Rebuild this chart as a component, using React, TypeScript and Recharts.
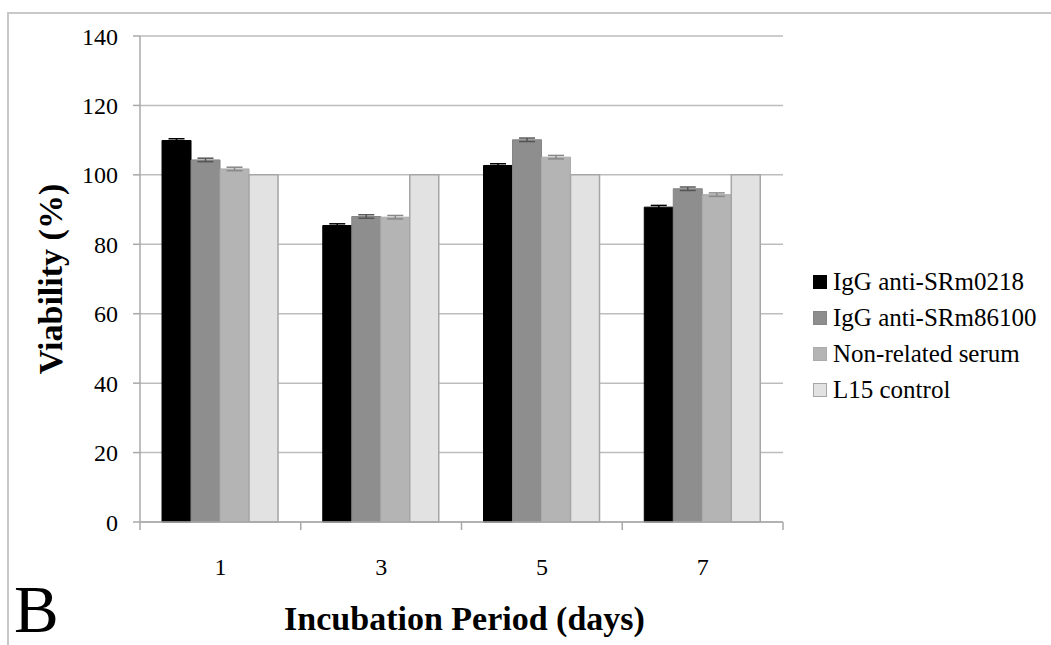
import React from "react";
import { BarChart, Bar, XAxis, YAxis, CartesianGrid, Legend, ErrorBar, Label } from "recharts";

const days = ["1", "3", "5", "7"];
const igg0218 = [109.9, 85.4, 102.7, 90.7];
const igg86100 = [104.3, 88.0, 110.1, 96.0];
const nonRelated = [101.7, 87.8, 105.1, 94.3];
const l15 = [100, 100, 100, 100];
const err0218 = [0.5, 0.5, 0.5, 0.5];
const err86100 = [0.5, 0.5, 0.5, 0.5];
const errNon = [0.5, 0.5, 0.5, 0.5];
const yTicks = [0, 20, 40, 60, 80, 100, 120, 140];
const boundaryTicks = [0, 1, 2, 3, 4];

const seriesNames = ["IgG anti-SRm0218", "IgG anti-SRm86100", "Non-related serum", "L15 control"];
const seriesColors = ["#000000", "#8e8e8e", "#b4b4b4", "#e2e2e2"];
const seriesStrokes = ["#000000", "#858585", "#aaaaaa", "#a6a6a6"];

const data = days.map((d, i) => ({
  day: d,
  slot: i + 0.5,
  a: igg0218[i],
  b: igg86100[i],
  c: nonRelated[i],
  d: l15[i],
  ea: err0218[i],
  eb: err86100[i],
  ec: errNon[i],
}));

const FONT = '"Liberation Serif", "Times New Roman", Times, serif';

const LegendContent = () => (
  <div style={{ fontFamily: FONT, fontSize: 25, color: "#000" }}>
    {seriesNames.map((n, i) => (
      <div key={n} style={{ display: "flex", alignItems: "center", height: 36, whiteSpace: "nowrap" }}>
        <span
          style={{
            display: "inline-block",
            width: 12,
            height: 12,
            background: seriesColors[i],
            border: `1px solid ${seriesStrokes[i]}`,
            marginRight: 6,
          }}
        />
        <span>{n}</span>
      </div>
    ))}
  </div>
);

const EmptyTick = () => <g />;

export default function App() {
  return (
    <div style={{ position: "absolute", left: 0, top: 0, width: 1051, height: 645, background: "#fff", overflow: "hidden" }}>
      <div
        style={{
          position: "absolute",
          left: 7,
          top: 12,
          width: 1100,
          height: 700,
          borderTop: "2px solid #c8c8c8",
          borderLeft: "2px solid #c8c8c8",
        }}
      />
      <div style={{ position: "absolute", left: 0, top: 0 }}>
        <BarChart
          width={1051}
          height={645}
          data={data}
          margin={{ top: 36, right: 268, left: 60, bottom: 62 }}
          barCategoryGap="13.7%"
          barGap={0}
        >
          <CartesianGrid vertical={false} stroke="#bdbdbd" strokeWidth={1.5} xAxisId="axB" yAxisId="y" />
          <XAxis
            xAxisId="axB"
            dataKey="day"
            height={60}
            axisLine={false}
            tickLine={false}
            tickSize={0}
            tickMargin={35}
            tick={{ fontSize: 24, fill: "#000", fontFamily: FONT }}
          >
            <Label
              content={({ viewBox }: any) => (
                <text
                  x={viewBox.x + viewBox.width / 2 + 3}
                  y={viewBox.y + 107}
                  textAnchor="middle"
                  style={{ fontFamily: FONT, fontSize: 34, fontWeight: "bold", fill: "#000" }}
                >
                  Incubation Period (days)
                </text>
              )}
            />
          </XAxis>
          <XAxis
            xAxisId="axA"
            dataKey="slot"
            type="number"
            domain={[0, 4]}
            ticks={boundaryTicks}
            interval={0}
            height={1}
            tick={EmptyTick}
            tickSize={8}
            axisLine={{ stroke: "#a8a8a8", strokeWidth: 1.5 }}
            tickLine={{ stroke: "#a8a8a8", strokeWidth: 1.5 }}
            allowDataOverflow
          />
          <YAxis
            yAxisId="y"
            width={80}
            domain={[0, 140]}
            ticks={yTicks}
            interval={0}
            tickSize={7}
            tickMargin={15}
            axisLine={{ stroke: "#a8a8a8", strokeWidth: 1.5 }}
            tickLine={{ stroke: "#a8a8a8", strokeWidth: 1.5 }}
            tick={{ fontSize: 24, fill: "#000", fontFamily: FONT }}
          >
            <Label
              content={({ viewBox }: any) => {
                const cx = viewBox.x - 10;
                const cy = viewBox.y + viewBox.height / 2;
                return (
                  <text
                    x={cx}
                    y={cy}
                    transform={`rotate(-90, ${cx}, ${cy})`}
                    textAnchor="middle"
                    dominantBaseline="central"
                    style={{ fontFamily: FONT, fontSize: 34, fontWeight: "bold", fill: "#000" }}
                  >
                    Viability (%)
                  </text>
                );
              }}
            />
          </YAxis>
          <Legend
            layout="vertical"
            align="center"
            verticalAlign="middle"
            content={<LegendContent />}
            wrapperStyle={{ left: 813, top: 264, width: 240 }}
          />
          <Bar xAxisId="axB" yAxisId="y" dataKey="a" name={seriesNames[0]} fill={seriesColors[0]} stroke={seriesStrokes[0]} strokeWidth={1} isAnimationActive={false}>
            <ErrorBar dataKey="ea" width={8} stroke="#000" strokeWidth={1.5} isAnimationActive={false} />
          </Bar>
          <Bar xAxisId="axB" yAxisId="y" dataKey="b" name={seriesNames[1]} fill={seriesColors[1]} stroke={seriesStrokes[1]} strokeWidth={1} isAnimationActive={false}>
            <ErrorBar dataKey="eb" width={8} stroke="#555" strokeWidth={1.5} isAnimationActive={false} />
          </Bar>
          <Bar xAxisId="axB" yAxisId="y" dataKey="c" name={seriesNames[2]} fill={seriesColors[2]} stroke={seriesStrokes[2]} strokeWidth={1} isAnimationActive={false}>
            <ErrorBar dataKey="ec" width={8} stroke="#888" strokeWidth={1.5} isAnimationActive={false} />
          </Bar>
          <Bar xAxisId="axB" yAxisId="y" dataKey="d" name={seriesNames[3]} fill={seriesColors[3]} stroke={seriesStrokes[3]} strokeWidth={1.5} isAnimationActive={false} />
        </BarChart>
      </div>
      <svg style={{ position: "absolute", left: 0, top: 560 }} width={100} height={85}>
        <text x={14} y={72} style={{ fontFamily: FONT, fontSize: 67, fill: "#000" }}>
          B
        </text>
      </svg>
    </div>
  );
}
